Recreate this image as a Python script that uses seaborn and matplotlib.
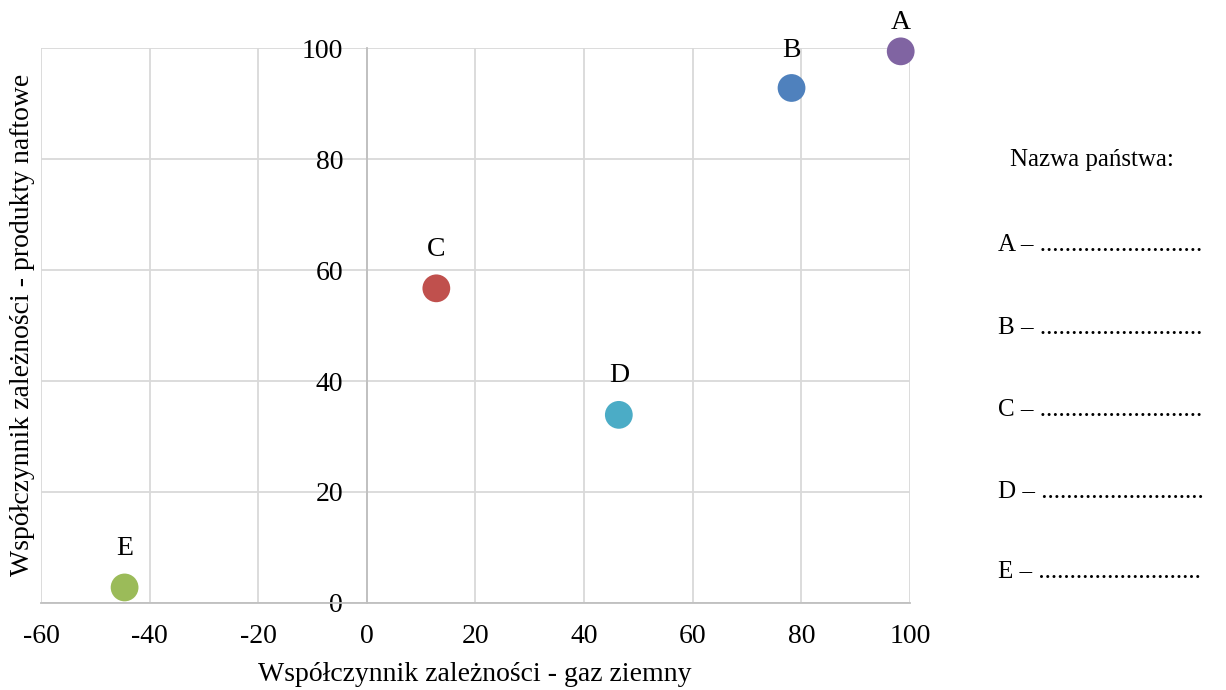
import matplotlib
matplotlib.use("Agg")
import matplotlib.pyplot as plt
import seaborn as sns
import pandas as pd

# ======================================
# DATA
# ======================================
countries = ["A", "B", "C", "D", "E"]
gas = [98.3, 78.2, 12.8, 46.4, -44.6]
oil = [99.4, 92.8, 56.7, 33.9, 2.8]
colors = ["#8064A2", "#4F81BD", "#C0504D", "#4BACC6", "#9BBB59"]

x_ticks = [-60, -40, -20, 0, 20, 40, 60, 80, 100]
y_ticks = [0, 20, 40, 60, 80, 100]

x_label = "Współczynnik zależności - gaz ziemny"
y_label = "Współczynnik zależności - produkty naftowe"
legend_title = "Nazwa państwa:"

df = pd.DataFrame({"kraj": countries, "gaz": gas, "ropa": oil})

# ======================================
# STYLE
# ======================================
sns.set_theme(style="white")
plt.rcParams["font.family"] = ["Liberation Serif", "DejaVu Serif"]
plt.rcParams["axes.unicode_minus"] = False
plt.rcParams["text.color"] = "black"
FS = 20

fig = plt.figure(figsize=(12.26, 6.9), dpi=100)
ax = fig.add_axes([0.0334, 0.1261, 0.7088, 0.8043])

sns.scatterplot(data=df, x="gaz", y="ropa", hue="kraj",
                palette=colors, s=400, edgecolor="none",
                legend=False, ax=ax, zorder=3, clip_on=False)

# label offsets in points (A sits closer, near the top edge)
label_offsets = [21, 27, 28, 28, 28]
for name, xv, yv, off in zip(countries, gas, oil, label_offsets):
    ax.annotate(name, (xv, yv), xytext=(0, off), textcoords="offset points",
                ha="center", va="center", fontsize=FS, color="black")

ax.set_xlim(-60, 100)
ax.set_ylim(0, 100)
ax.set_xticks(x_ticks)
ax.set_yticks(y_ticks)
ax.grid(True, color="#D9D9D9", linewidth=1.3)
ax.set_axisbelow(True)

for side in ["top", "right"]:
    ax.spines[side].set_visible(False)
ax.spines["left"].set_position(("data", 0))
ax.spines["left"].set_color("#BFBFBF")
ax.spines["bottom"].set_color("#BFBFBF")
ax.spines["left"].set_linewidth(1.3)
ax.spines["bottom"].set_linewidth(1.3)

ax.tick_params(axis="both", length=0, labelsize=FS, colors="black")
ax.tick_params(axis="y", pad=17)
ax.tick_params(axis="x", pad=15)

ax.set_xlabel("")
ax.set_ylabel("")
fig.text(0.387, 0.022, x_label, ha="center", va="center", fontsize=FS)
fig.text(0.018, 0.529, y_label, ha="center", va="center", fontsize=FS,
         rotation=90)

# right-hand answer list
LFS = 18
fig.text(0.891, 0.768, legend_title, ha="center", va="center", fontsize=LFS)
legend_y = [0.645, 0.525, 0.406, 0.287, 0.171]
for name, ly in zip(countries, legend_y):
    fig.text(0.814, ly, name + " – " + "." * 26, ha="left", va="center",
             fontsize=LFS)

fig.savefig("out.png", dpi=100)
